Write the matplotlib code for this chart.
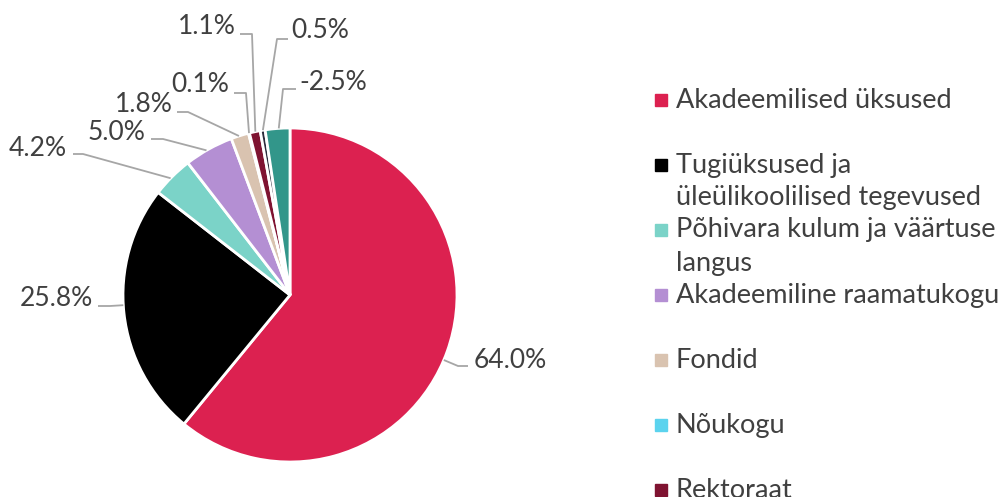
import numpy as np
import matplotlib.pyplot as plt

plt.rcParams['font.family'] = ['Lato', 'DejaVu Sans']

values = [64.0, 25.8, 4.2, 5.0, 1.8, 0.1, 1.1, 0.5, -2.5]
colors = ["#DC2150", "#000000", "#7BD3C8", "#B48FD3", "#D9C3B0",
          "#5BD3EE", "#7F1331", "#2B2B3B", "#32968A"]
legend_labels = ["Akadeemilised üksused",
                 "Tugiüksused ja\nüleülikoolilised tegevused",
                 "Põhivara kulum ja väärtuse\nlangus",
                 "Akadeemiline raamatukogu",
                 "Fondid",
                 "Nõukogu",
                 "Rektoraat"]

# label text centre and end of the leader line (pixels, y down)
label_pos = [(510, 360), (56, 298), (38, 148), (117, 132), (144, 104),
             (200, 85), (207, 27), (320, 30), (333, 82)]
line_end = [(468, 366), (98, 306), (73, 154), (151, 139), (177, 112),
            (234, 93), (240, 34), (288, 39), (296, 89)]
elbow_dx = [-10, 12, 10, 12, 11, 12, 12, -11, -13]

cx, cy, r = 290, 295, 167
text_color = "#404040"
line_color = "#A6A6A6"

fig = plt.figure(figsize=(10.06, 4.97), dpi=100)
ax = fig.add_axes([0, 0, 1, 1])

sizes = np.abs(values)
ax.pie(sizes, colors=colors, startangle=-90, counterclock=True,
       center=(cx, cy), radius=r, frame=True,
       wedgeprops=dict(edgecolor="white", linewidth=2))

ax.set_xlim(0, 1006)
ax.set_ylim(497, 0)
ax.set_aspect('auto')
ax.axis('off')

frac = sizes / sizes.sum() * 360
starts = np.concatenate([[0], np.cumsum(frac)[:-1]])
for i, v in enumerate(values):
    a0, a1 = starts[i], starts[i] + frac[i]
    mid = (a0 + a1) / 2
    ex, ey = line_end[i][0] + elbow_dx[i], line_end[i][1]
    phi = np.degrees(np.arctan2(ex - cx, -(ey - cy))) % 360
    half = 0.05 * frac[i]
    phi = np.clip(phi, mid - half, mid + half)
    ax_x = cx + r * np.sin(np.radians(phi))
    ax_y = cy - r * np.cos(np.radians(phi))
    ax.plot([ax_x, ex, line_end[i][0]], [ax_y, ey, line_end[i][1]],
            color=line_color, lw=1.3, solid_capstyle='butt')
    ax.text(label_pos[i][0], label_pos[i][1], f"{v:.1f}%", fontsize=19,
            color=text_color, ha='center', va='center')

for i, lab in enumerate(legend_labels):
    y = 100 + 65 * i
    ax.plot(661, y, marker='s', markersize=8.5, color=colors[i], linestyle='none')
    for k, line in enumerate(lab.split("\n")):
        ax.text(676, y + 33 * k, line, fontsize=19.5, color=text_color,
                ha='left', va='center')

fig.savefig("out.png", dpi=100)
